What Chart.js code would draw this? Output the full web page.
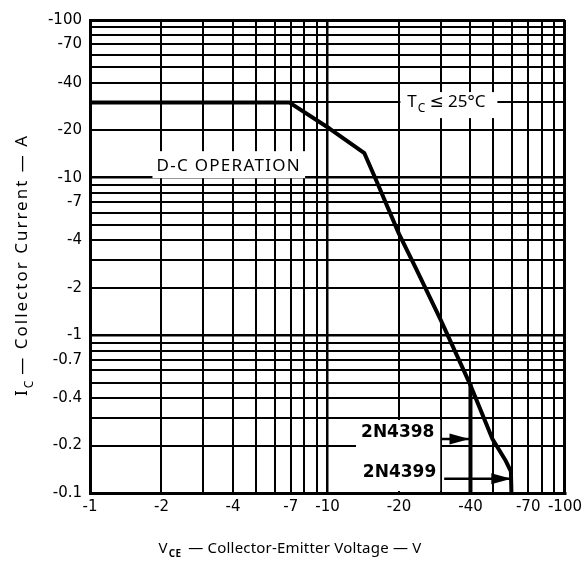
<!DOCTYPE html>
<html><head><meta charset="utf-8">
<script src="https://cdn.jsdelivr.net/npm/chart.js@4.4.1/dist/chart.umd.min.js"></script>
<style>html,body{margin:0;padding:0;background:#fff}#wrap{width:587px;height:564px;position:relative}</style>
</head><body><div id="wrap"><canvas id="c"></canvas></div>
<script>
// ---- data (values as printed on the chart: negative V and A) ----
const vGrid = [-1,-2,-3,-4,-5,-6,-7,-8,-9,-10,-20,-30,-40,-50,-60,-70,-80,-90,-100];
const iGrid = [-0.1,-0.2,-0.3,-0.4,-0.5,-0.6,-0.7,-0.8,-0.9,-1,-2,-3,-4,-5,-6,-7,-8,-9,-10,-20,-30,-40,-50,-60,-70,-80,-90,-100];
const vTickLabels = [-1,-2,-4,-7,-10,-20,-40,-70,-100];
const iTickLabels = [-100,-70,-40,-20,-10,-7,-4,-2,-1,-0.7,-0.4,-0.2,-0.1];
const dcVce = [-1,-6.9,-10.2,-14.3,-16,-20,-23.6,-30,-39.6,-49.5,-56.3,-59.2,-59.5];
const dcIc  = [-30,-30,-20.5,-14.3,-9.7,-4.4,-2.65,-1.25,-0.5,-0.22,-0.16,-0.137,-0.1];
const lim4398Vce = [-40,-40];
const lim4398Ic  = [-0.5,-0.1];
const arrow4398Vce = [-30,-40];
const arrow4398Ic  = [-0.22,-0.22];
const arrow4399Vce = [-31,-60];
const arrow4399Ic  = [-0.123,-0.123];

const pts = (xs, ys) => xs.map((x, i) => ({x: Math.abs(x), y: Math.abs(ys[i])}));
const has = (arr, v) => arr.some(t => Math.abs(Math.abs(t) - v) < 1e-9);
const FONT = '"Noto Sans", "DejaVu Sans", sans-serif';
const TICKFONT = '"DejaVu Sans", sans-serif';

const annotPlugin = {
  id: 'annot',
  beforeDatasetsDraw(chart) {
    const ctx = chart.ctx, xs = chart.scales.x, ys = chart.scales.y;
    ctx.save();
    ctx.fillStyle = '#000';
    ctx.textBaseline = 'middle';
    // D-C OPERATION
    ctx.font = '17px ' + FONT;
    ctx.letterSpacing = '1.3px';
    let t = 'D-C OPERATION';
    let w = ctx.measureText(t).width;
    let cx = xs.getPixelForValue(3.84), cy = ys.getPixelForValue(12);
    ctx.fillStyle = '#fff';
    ctx.fillRect(cx - w/2 - 4, cy - 14, w + 8, 27);
    ctx.fillStyle = '#000';
    ctx.textAlign = 'center';
    ctx.fillText(t, cx, cy + 1);
    // Tc label
    cx = xs.getPixelForValue(32.6); cy = ys.getPixelForValue(30.6);
    ctx.fillStyle = '#fff';
    ctx.fillRect(cx - 49, cy - 9, 97, 26);
    ctx.fillStyle = '#000';
    ctx.letterSpacing = '0px';
    ctx.textAlign = 'left';
    let x0 = cx - 42;
    ctx.font = '17px ' + FONT;
    ctx.fillText('T', x0, cy + 1);
    x0 += ctx.measureText('T').width + 1;
    ctx.font = '12px ' + FONT;
    ctx.fillText('C', x0, cy + 7);
    x0 += ctx.measureText('C').width + 4;
    ctx.font = '17px ' + FONT;
    ctx.fillText('\u2264 25\u00B0C', x0, cy + 1);
    // 2N labels
    ctx.font = 'bold 17px "DejaVu Sans", sans-serif';
    ctx.textAlign = 'right';
    const r1 = xs.getPixelForValue(28.2), y1 = ys.getPixelForValue(0.24);
    const r2 = xs.getPixelForValue(28.7), y2 = ys.getPixelForValue(0.134);
    const wl = ctx.measureText('2N4399').width;
    ctx.fillStyle = '#fff';
    ctx.fillRect(r1 - wl - 5, y1 - 13, (r2 - r1) + wl + 9, chart.chartArea.bottom - 2 - (y1 - 13));
    ctx.fillStyle = '#000';
    ctx.fillText('2N4398', r1, y1);
    ctx.fillText('2N4399', r2, y2);
    ctx.restore();
  },
  afterDatasetsDraw(chart) {
    const ctx = chart.ctx;
    ctx.save();
    ctx.fillStyle = '#000';
    [3, 4].forEach(di => {
      const d = chart.getDatasetMeta(di).data;
      const a = d[d.length - 2], b = d[d.length - 1];
      const ang = Math.atan2(b.y - a.y, b.x - a.x);
      ctx.save();
      ctx.translate(b.x - 1, b.y);
      ctx.rotate(ang);
      ctx.beginPath();
      ctx.moveTo(0, 0);
      ctx.lineTo(-20, -5.5);
      ctx.lineTo(-20, 5.5);
      ctx.closePath();
      ctx.fill();
      ctx.restore();
    });
    ctx.restore();
  },
  afterDraw(chart) {
    const ctx = chart.ctx;
    ctx.save();
    ctx.fillStyle = '#000';
    ctx.textBaseline = 'alphabetic';
    // y title
    ctx.translate(27, 265);
    ctx.rotate(-Math.PI / 2);
    ctx.letterSpacing = '2px';
    const big = '17px ' + FONT, small = '12px ' + FONT;
    const rest = '\u2014 Collector Current \u2014 A';
    ctx.font = big; const wI = ctx.measureText('I').width; const wR = ctx.measureText(rest).width;
    ctx.font = small; const wC = ctx.measureText('C').width;
    let total = wI + wC + 4 + wR;
    let x = -total / 2;
    ctx.font = big; ctx.fillText('I', x, 0); x += wI;
    ctx.font = small; ctx.fillText('C', x, 6); x += wC + 4;
    ctx.font = big; ctx.fillText(rest, x, 0);
    ctx.restore();
    // x title
    ctx.save();
    ctx.fillStyle = '#000';
    ctx.textBaseline = 'alphabetic';
    ctx.letterSpacing = '0.2px';
    const restX = '\u2014 Collector-Emitter Voltage \u2014 V';
    ctx.font = '15px ' + FONT; const wV = ctx.measureText('V').width; const wRX = ctx.measureText(restX).width;
    ctx.font = 'bold 10px ' + FONT; const wCE = ctx.measureText('CE').width;
    total = wV + wCE + 8 + wRX;
    x = 290 - total / 2;
    const by = 553;
    ctx.font = '15px ' + FONT; ctx.fillText('V', x, by); x += wV + 1;
    ctx.font = 'bold 10px ' + FONT; ctx.fillText('CE', x, by + 4); x += wCE + 7;
    ctx.font = '15px ' + FONT; ctx.fillText(restX, x, by);
    ctx.restore();
  }
};

const gridWidth = (v) => (Math.abs(v - 100) < 1e-9 ? 3 : (has([-1,-10], v) ? 2.5 : 2));

new Chart(document.getElementById('c'), {
  type: 'scatter',
  data: {
    datasets: [
      {data: pts(dcVce, dcIc), showLine: true, borderColor: '#000', borderWidth: 4, pointRadius: 0, tension: 0, borderJoinStyle: 'round'},
      {data: pts(lim4398Vce, lim4398Ic), showLine: true, borderColor: '#000', borderWidth: 4, pointRadius: 0},
      {data: [], showLine: false},
      {data: pts(arrow4398Vce, arrow4398Ic), showLine: true, borderColor: '#000', borderWidth: 2.5, pointRadius: 0},
      {data: pts(arrow4399Vce, arrow4399Ic), showLine: true, borderColor: '#000', borderWidth: 2.5, pointRadius: 0}
    ]
  },
  options: {
    responsive: true,
    maintainAspectRatio: false,
    animation: false,
    events: [],
    layout: {padding: {left: 0, right: 21, top: 20, bottom: 0}},
    plugins: {legend: {display: false}, tooltip: {enabled: false}},
    scales: {
      x: {
        type: 'logarithmic', min: 1, max: 100,
        afterBuildTicks: s => { s.ticks = vGrid.map(v => ({value: Math.abs(v)})); },
        afterFit: s => { s.height = 71; },
        border: {display: true, color: '#000', width: 3},
        grid: {color: '#000', drawTicks: false, lineWidth: c => gridWidth(c.tick ? c.tick.value : 1)},
        ticks: {autoSkip: false, maxRotation: 0, minRotation: 0, padding: 5, color: '#000',
          font: {family: TICKFONT, size: 15},
          callback: v => has(vTickLabels, v) ? String(-v) : ''}
      },
      y: {
        type: 'logarithmic', min: 0.1, max: 100,
        afterBuildTicks: s => { s.ticks = iGrid.map(v => ({value: Math.abs(v)})); },
        afterFit: s => { s.width = 90; },
        border: {display: true, color: '#000', width: 3},
        grid: {color: '#000', drawTicks: false, lineWidth: c => gridWidth(c.tick ? c.tick.value : 1)},
        ticks: {autoSkip: false, padding: 8, color: '#000',
          font: {family: TICKFONT, size: 15},
          callback: v => has(iTickLabels, v) ? String(-v) : ''}
      }
    }
  },
  plugins: [annotPlugin]
});
</script></body></html>
